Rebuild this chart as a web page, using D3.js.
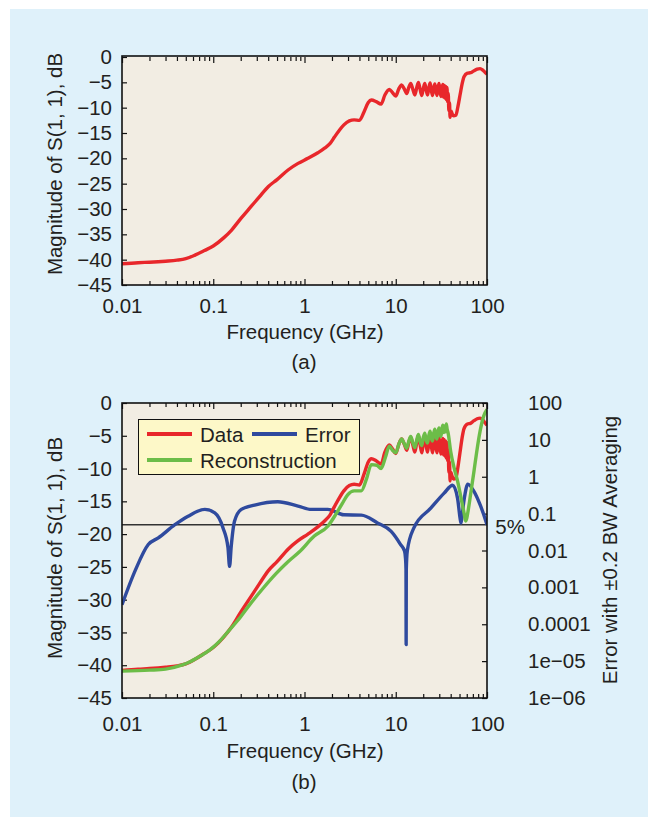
<!DOCTYPE html>
<html>
<head>
<meta charset="utf-8">
<script src="https://cdnjs.cloudflare.com/ajax/libs/d3/7.8.5/d3.min.js"></script>
<style>
  body { margin: 0; background: #fff; }
  svg text { font-family: "Liberation Sans", Arial, sans-serif; fill: #231f20; }
</style>
</head>
<body>
<div id="fig"></div>
<script>
// tick values / labels
var freqTicks = [0.01, 0.1, 1, 10, 100];
var freqLabels = ["0.01", "0.1", "1", "10", "100"];
var dbTicks = [0, -5, -10, -15, -20, -25, -30, -35, -40, -45];
var errTicks = [100, 10, 1, 0.1, 0.01, 0.001, 0.0001, 1e-5, 1e-6];
var errLabels = ["100", "10", "1", "0.1", "0.01", "0.001", "0.0001", "1e\u221205", "1e\u221206"];

// measured S11 [GHz, dB]
var measured = [
  [0.01,-40.8],[0.015,-40.6],[0.02,-40.5],[0.03,-40.3],[0.04,-40.1],[0.05,-39.8],[0.063,-39.1],
  [0.08,-38.2],[0.1,-37.3],[0.13,-35.7],[0.158,-34.2],[0.2,-31.9],[0.26,-29.5],[0.32,-27.6],
  [0.4,-25.6],[0.5,-24.2],[0.66,-22.3],[0.85,-21.0],[1.09,-20.0],[1.4,-18.9],[1.66,-18.0],
  [1.9,-17.1],[2.13,-15.8],[2.4,-14.5],[2.7,-13.4],[3.1,-12.6],[3.5,-12.4],[4.0,-12.5],
  [4.5,-10.8],[5.0,-9.0],[5.4,-8.5],[6.1,-8.8],[6.9,-9.3],[7.6,-7.5],[8.5,-6.4],[9.2,-7.0],
  [10.0,-7.7],[10.8,-6.3],[11.6,-5.5],[12.4,-6.3],[13.2,-7.2],[13.9,-6.0],[14.6,-5.2],
  [15.4,-6.4],[16.2,-7.5],[17.0,-6.0],[17.7,-5.0],[18.5,-6.4],[19.3,-7.6],[20.0,-6.3],
  [20.8,-5.2],[21.5,-6.4],[22.3,-7.5],[23.0,-6.2],[23.8,-5.1],[24.5,-6.5],[25.3,-7.6],
  [26.0,-6.3],[26.8,-5.3],[27.5,-6.4],[28.3,-7.6],[29.0,-6.2],[29.8,-5.2],[30.5,-6.6],
  [31.3,-7.8],[32.0,-6.2],[32.8,-5.4],[33.4,-7.9],[34.0,-5.6],[34.6,-8.1],[35.2,-5.8],
  [35.8,-8.4],[36.4,-6.0],[37.0,-8.8],[37.6,-7.2],[38.2,-10.6],[38.8,-9.0],[39.4,-11.9],
  [40.2,-10.6],[41.5,-11.2],[43,-11.6],[45.5,-11.5],[48,-9.8],[51,-7.2],[53.5,-5.2],
  [56,-3.9],[61,-3.2],[66,-3.1],[72,-2.7],[78,-2.4],[84,-2.3],[90,-2.6],[95,-3.0],[100,-3.4]
];

// reconstruction [GHz, dB]
var reconstruction = [
  [0.01,-40.9],[0.02,-40.75],[0.03,-40.6],[0.045,-40.0],[0.055,-39.5],[0.07,-38.7],
  [0.091,-37.7],[0.12,-36.2],[0.151,-34.6],[0.2,-32.6],[0.25,-30.8],[0.35,-28.3],
  [0.49,-26.0],[0.65,-24.3],[0.88,-22.7],[1.28,-20.3],[1.8,-18.8],[2.2,-17.0],[2.6,-15.3],
  [2.97,-14.0],[3.5,-13.4],[4.2,-13.4],[4.8,-11.5],[5.4,-9.4],[6.2,-9.5],[6.9,-10.0],
  [7.7,-8.3],[8.5,-6.6],[9.2,-7.2],[10.0,-7.6],[10.8,-6.3],[11.6,-5.5],[12.4,-6.2],
  [13.2,-6.9],[13.9,-5.8],[14.6,-5.1],[15.4,-6.1],[16.2,-6.8],[17.0,-5.6],[17.7,-4.8],
  [18.5,-5.9],[19.3,-6.5],[20.0,-5.3],[20.8,-4.6],[21.5,-5.6],[22.3,-6.1],[23.0,-5.0],
  [23.8,-4.3],[24.5,-5.3],[25.3,-5.8],[26.0,-4.7],[26.8,-4.0],[27.5,-5.0],[28.3,-5.5],
  [29.0,-4.4],[29.8,-3.8],[30.5,-4.7],[31.3,-5.1],[32.0,-4.0],[32.8,-3.4],[33.6,-4.5],
  [34.4,-3.5],[35.2,-4.4],[35.8,-3.2],[36.6,-4.0],[37.5,-4.6],[40,-7.4],[43.6,-9.9],
  [47.6,-11.9],[52,-14.5],[56.4,-17.0],[58.2,-18.0],[60,-17.6],[62,-16.5],[66,-14.0],
  [72,-10.4],[78,-7.0],[84,-4.3],[92,-2.0],[100,-1.0]
];

// error with +-0.2 BW averaging [GHz, error]
var errorBW = [
  [0.01,3.4e-4],[0.0139,2.8e-3],[0.0194,0.0145],[0.025,0.022],[0.038,0.05],[0.053,0.085],
  [0.081,0.13],[0.104,0.105],[0.128,0.041],[0.145,0.012],[0.151,0.0037],[0.157,0.012],
  [0.171,0.062],[0.203,0.13],[0.284,0.17],[0.51,0.21],[0.85,0.16],[1.19,0.13],[1.8,0.13],
  [2.7,0.093],[4.2,0.091],[6.3,0.056],[8.9,0.033],[11.3,0.0145],[12.5,0.0095],[12.8,0.006],
  [12.95,0.003],[13.0,2.8e-5],[13.05,0.003],[13.4,0.01],[15.8,0.041],[24.2,0.14],
  [33.9,0.36],[42,0.59],[47.6,0.26],[50.5,0.08],[51.9,0.056],[53,0.08],[56.4,0.26],
  [61.6,0.63],[71.7,0.41],[84.4,0.17],[98.6,0.056],[100,0.05]
];

var threshold = 0.05; // 5% line

var colors = { data: "#e8272b", recon: "#6cbd48", error: "#2f4a9e" };
var fontSize = 20.5;

var svg = d3.select("#fig").append("svg")
  .attr("width", 660)
  .attr("height", 818);

// light blue panel
svg.append("rect")
  .attr("x", 10).attr("y", 9)
  .attr("width", 638).attr("height", 808)
  .attr("fill", "#dff1fa");

var x = d3.scaleLog().domain([0.01, 100]).range([122, 487]);
var minorFreq = x.ticks().filter(function(d) { return freqTicks.indexOf(+d.toPrecision(6)) < 0; });

function styleAxis(g) {
  g.select(".domain").remove();
  g.attr("font-size", fontSize).attr("font-family", null);
  g.selectAll("line").attr("stroke", "#111").attr("stroke-width", 1.2);
}

/**
 * draw the frame, x axes and left dB axis of one panel
 */
function drawFrame(top, bottom, labelPad) {
  var y = d3.scaleLinear().domain([-45, 0]).range([bottom, top]);
  var g = svg.append("g");

  g.append("rect")
    .attr("x", 122).attr("y", top)
    .attr("width", 487 - 122).attr("height", bottom - top)
    .attr("fill", "#f2ede3");

  g.append("g").attr("transform", "translate(0," + bottom + ")")
    .call(d3.axisBottom(x).tickValues(freqTicks).tickSize(-6).tickPadding(labelPad)
      .tickFormat(function(d, i) { return freqLabels[i]; }))
    .call(styleAxis);
  g.append("g").attr("transform", "translate(0," + bottom + ")")
    .call(d3.axisBottom(x).tickValues(minorFreq).tickSize(-4).tickFormat(""))
    .call(styleAxis);
  g.append("g").attr("transform", "translate(0," + top + ")")
    .call(d3.axisTop(x).tickValues(freqTicks).tickSize(-6).tickFormat(""))
    .call(styleAxis);
  g.append("g").attr("transform", "translate(0," + top + ")")
    .call(d3.axisTop(x).tickValues(minorFreq).tickSize(-4).tickFormat(""))
    .call(styleAxis);

  g.append("g").attr("transform", "translate(122,0)")
    .call(d3.axisLeft(y).tickValues(dbTicks).tickSize(-5).tickPadding(10)
      .tickFormat(function(d) { return d < 0 ? "\u2212" + (-d) : d; }))
    .call(styleAxis);

  return { g: g, y: y };
}

function drawBox(top, bottom) {
  svg.append("rect")
    .attr("x", 122).attr("y", top)
    .attr("width", 487 - 122).attr("height", bottom - top)
    .attr("fill", "none").attr("stroke", "#111").attr("stroke-width", 1.6);
}

function curve(yScale, data, color, clipId, smooth) {
  var line = d3.line()
    .curve(smooth ? d3.curveMonotoneX : d3.curveLinear)
    .x(function(d) { return x(d[0]); })
    .y(function(d) { return yScale(d[1]); });
  svg.append("path")
    .datum(data)
    .attr("d", line)
    .attr("clip-path", "url(#" + clipId + ")")
    .attr("fill", "none")
    .attr("stroke", color)
    .attr("stroke-width", 3.4)
    .attr("stroke-linejoin", "round");
}

function addClip(id, top, bottom) {
  svg.append("clipPath").attr("id", id).append("rect")
    .attr("x", 122).attr("y", top - 1).attr("width", 365).attr("height", bottom - top + 2);
}

function yTitle(cx, cy, txt) {
  svg.append("text")
    .attr("transform", "translate(" + cx + "," + cy + ") rotate(-90)")
    .attr("text-anchor", "middle")
    .attr("font-size", fontSize)
    .text(txt);
}

function centerText(cx, cy, txt) {
  svg.append("text")
    .attr("x", cx).attr("y", cy)
    .attr("text-anchor", "middle")
    .attr("font-size", fontSize)
    .text(txt);
}

// ---------- panel (a)
var A = drawFrame(57, 285, 13);
addClip("clipA", 57, 285);
curve(A.y, measured, colors.data, "clipA", true);
drawBox(56, 285);
yTitle(62, 164, "Magnitude of S(1, 1), dB");
centerText(305, 339, "Frequency (GHz)");
centerText(304, 369, "(a)");

// ---------- panel (b)
var B = drawFrame(403, 698, 18);
addClip("clipB", 403, 698);
var yErr = d3.scaleLog().domain([1e-6, 100]).range([698, 403]);

svg.append("g").attr("transform", "translate(487,0)")
  .call(d3.axisRight(yErr).tickValues(errTicks).tickSize(-5).tickPadding(41)
    .tickFormat(function(d, i) { return errLabels[i]; }))
  .call(styleAxis);

svg.append("line")
  .attr("x1", 122).attr("x2", 487)
  .attr("y1", yErr(threshold)).attr("y2", yErr(threshold))
  .attr("stroke", "#333").attr("stroke-width", 1.3);

curve(yErr, errorBW, colors.error, "clipB", true);
curve(B.y, measured, colors.data, "clipB", true);
curve(B.y, reconstruction, colors.recon, "clipB", true);
drawBox(403, 698);

svg.append("text")
  .attr("x", 525).attr("y", yErr(threshold) + 9)
  .attr("text-anchor", "end")
  .attr("font-size", fontSize)
  .text("5%");

// legend
var leg = svg.append("g");
leg.append("rect")
  .attr("x", 138.5).attr("y", 419.5).attr("width", 221).attr("height", 55)
  .attr("fill", "#fdf8c8").attr("stroke", "#111").attr("stroke-width", 1);
var legItems = [
  { label: "Data", color: colors.data, x: 147, y: 434 },
  { label: "Error", color: colors.error, x: 252, y: 434 },
  { label: "Reconstruction", color: colors.recon, x: 147, y: 460 }
];
legItems.forEach(function(it) {
  leg.append("line")
    .attr("x1", it.x).attr("x2", it.x + 45)
    .attr("y1", it.y).attr("y2", it.y)
    .attr("stroke", it.color).attr("stroke-width", 4);
  leg.append("text")
    .attr("x", it.x + 53).attr("y", it.y + 8)
    .attr("font-size", fontSize)
    .text(it.label);
});

yTitle(62, 548, "Magnitude of S(1, 1), dB");
yTitle(617, 550, "Error with \u00b10.2 BW Averaging");
centerText(305, 758, "Frequency (GHz)");
centerText(304, 789, "(b)");
</script>
</body>
</html>
